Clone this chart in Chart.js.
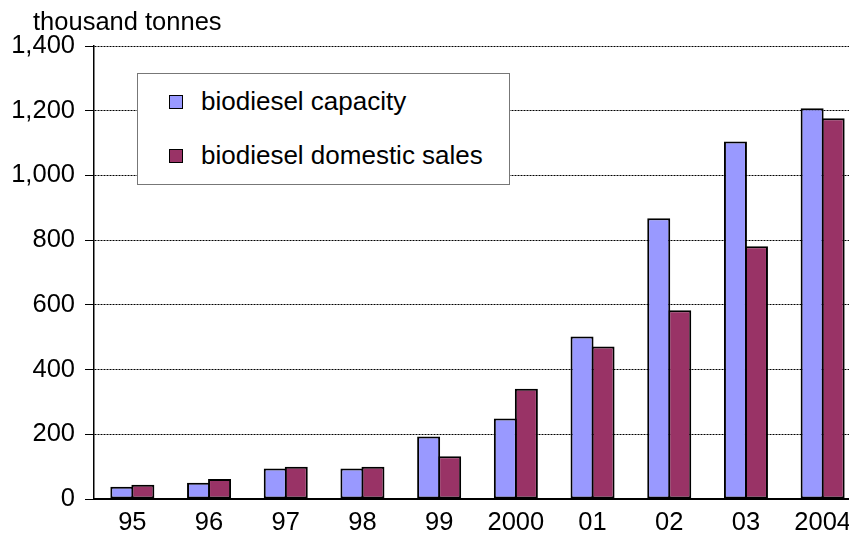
<!DOCTYPE html>
<html>
<head>
<meta charset="utf-8">
<script src="https://cdn.jsdelivr.net/npm/chart.js@4/dist/chart.umd.min.js"></script>
<style>
  html, body { margin: 0; padding: 0; background: #fff; overflow: hidden; }
  #wrap { position: relative; width: 849px; height: 546px; overflow: hidden; }
  #legend {
    position: absolute; left: 137px; top: 73px; width: 373px; height: 112px;
    border: 1px solid #777; background: #fff; box-sizing: border-box;
    font-family: "Liberation Sans", Arial, sans-serif; font-size: 26px; color: #000;
    list-style: none; margin: 0; padding: 14px 0 0 31px;
  }
  #legend li { display: flex; align-items: center; height: 27px; margin-bottom: 27px; }
  #legend span.box { width: 12px; height: 12px; border: 1.5px solid #000; margin-right: 18px; }
</style>
</head>
<body>
<div id="wrap">
  <canvas id="chart" width="861" height="546"></canvas>
  <ul id="legend"></ul>
</div>
<script>
const years = ["95", "96", "97", "98", "99", "2000", "01", "02", "03", "2004"];
const capacity = [38, 50, 94, 94, 193, 249, 502, 868, 1105, 1208];
const domesticSales = [44, 62, 100, 100, 132, 341, 471, 583, 781, 1177];
const seriesNames = ["biodiesel capacity", "biodiesel domestic sales"];
const seriesColors = ["#9999FF", "#993366"];
const unitLabel = "thousand tonnes";

document.addEventListener("DOMContentLoaded", () => {
  const font = "Liberation Sans, Arial, sans-serif";

  const legendEl = document.getElementById("legend");
  seriesNames.forEach((name, i) => {
    const li = document.createElement("li");
    li.innerHTML = `<span class="box" style="background-color: ${seriesColors[i]};"></span><span>${name}</span>`;
    legendEl.appendChild(li);
  });

  // unit text above the y axis
  const unitTitle = {
    id: "unitTitle",
    afterDraw(chart) {
      const ctx = chart.ctx;
      ctx.save();
      ctx.font = "25.5px " + font;
      ctx.fillStyle = "#000";
      ctx.textBaseline = "alphabetic";
      ctx.fillText(unitLabel, chart.chartArea.left - 61, 30);
      ctx.restore();
    },
  };

  const datasets = [capacity, domesticSales].map((values, i) => ({
    label: seriesNames[i],
    data: values,
    backgroundColor: seriesColors[i],
    borderColor: "#000",
    borderWidth: 2,
    borderSkipped: false,
    categoryPercentage: 0.548,
    barPercentage: 1.095,
  }));

  new Chart(document.getElementById("chart"), {
    type: "bar",
    data: { labels: years, datasets: datasets },
    plugins: [unitTitle],
    options: {
      responsive: false,
      animation: false,
      layout: { padding: { left: 0, right: 0, top: 46, bottom: 0 } },
      plugins: { legend: { display: false }, tooltip: { enabled: false } },
      scales: {
        x: {
          grid: { display: false, drawTicks: false },
          border: { color: "#000", width: 2 },
          ticks: { color: "#000", font: { family: font, size: 25.5 }, padding: 9, maxRotation: 0 },
          afterFit: (scale) => { scale.height = 47; },
        },
        y: {
          min: 0,
          max: 1400,
          grid: { color: "#000", lineWidth: 1, tickLength: 9, tickColor: "#000" },
          border: { color: "#000", width: 1.5, dash: [2, 1] },
          ticks: {
            stepSize: 200,
            color: "#000",
            font: { family: font, size: 25.5 },
            padding: 10,
            callback: (v) => v.toLocaleString("en-US"),
          },
          afterFit: (scale) => { scale.width = 94; },
        },
      },
    },
  });
});
</script>
</body>
</html>
